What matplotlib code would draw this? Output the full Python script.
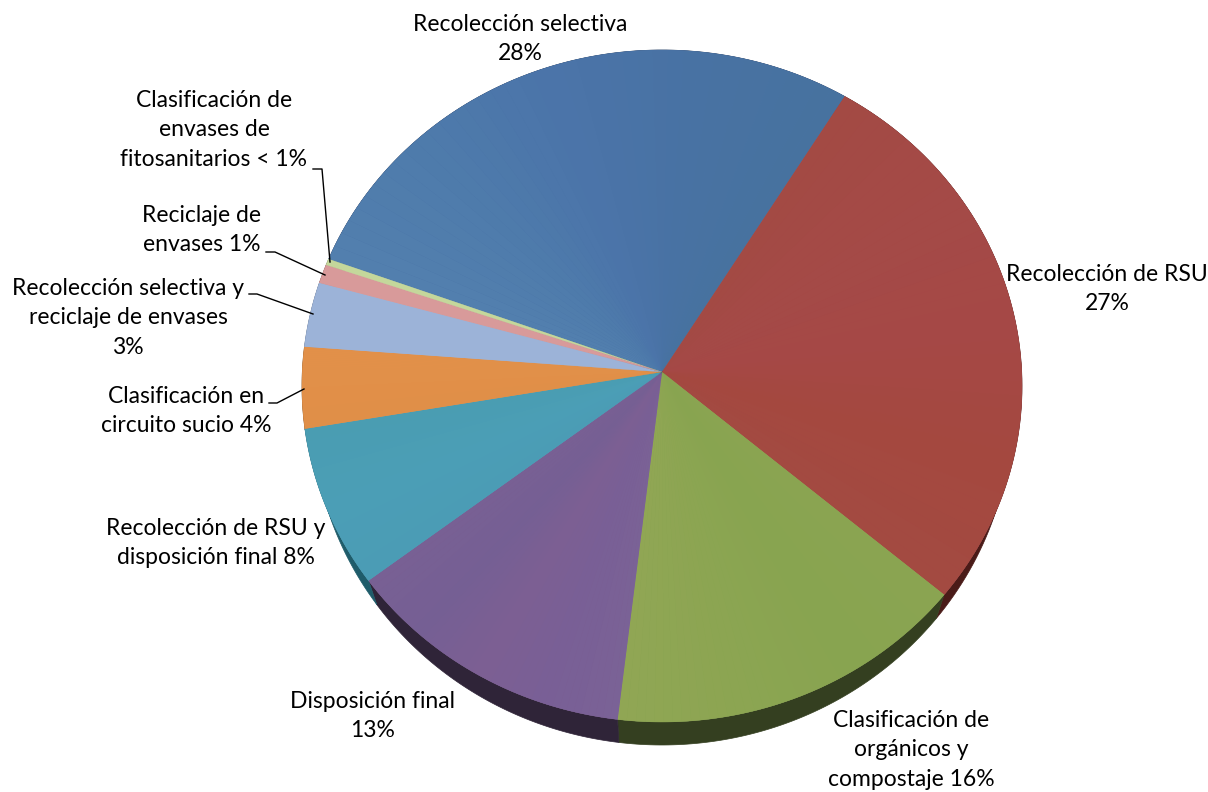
import numpy as np
import matplotlib
matplotlib.use("Agg")
import matplotlib.pyplot as plt
from matplotlib.colors import LinearSegmentedColormap

plt.rcParams["font.family"] = ["Lato", "DejaVu Sans"]

shares = [27.3, 27.2, 16.3, 13.2, 7.8, 3.9, 3.1, 0.9, 0.3]
labels = [
    "Recolección selectiva\n28%",
    "Recolección de RSU\n27%",
    "Clasificación de\norgánicos y\ncompostaje 16%",
    "Disposición final\n13%",
    "Recolección de RSU y\ndisposición final 8%",
    "Clasificación en\ncircuito sucio 4%",
    "Recolección selectiva y\nreciclaje de envases\n3%",
    "Reciclaje de\nenvases 1%",
    "Clasificación de\nenvases de\nfitosanitarios < 1%",
]
shades = [
    ["#527fae", "#4e7bab", "#4b74a9", "#4872a3", "#47729f"],
    ["#a34a44", "#a44a47", "#a54846", "#a4483f", "#a34a41"],
    ["#8aa451", "#88a450", "#8ca552", "#90a654"],
    ["#7a6296", "#795f96", "#7c5f93", "#755f94", "#786094"],
    ["#4b9cb5", "#4b9eb6", "#4a9db2"],
    ["#e08f48", "#e29049"],
    ["#9cb3d8", "#9cb3d8"],
    ["#d89a9a", "#d89a9a"],
    ["#c4d79b", "#c4d79b"],
]
side_colors = ["#25344c", "#4a1b18", "#343f20", "#2f2438", "#1f5c6a",
               "#6b3f14", "#4a5870", "#6b4444", "#5f6b45"]
label_pos = [(520, 39), (1107, 289), (911, 750), (373, 716), (216, 543),
             (186, 411), (128, 318), (202, 230), (214, 130)]
leaders = [
    None, None, None, None, None,
    ([269, 277, 304], [403, 403, 389]),
    ([249, 257, 313], [294, 294, 314]),
    ([266, 275, 325], [252, 252, 275]),
    ([313, 322, 330], [169, 169, 262]),
]

START = 292.2  # clockwise from straight up
APEX = (662, 372)
TOP = (662, 386, 360, 336)
BOTTOM = (662, 411, 350, 334)
N_BANDS = 40


def rim(ellipse, t1, t2, n=40):
    cx, cy, rx, ry = ellipse
    t = np.radians(np.linspace(t1, t2, n))
    return cx + rx * np.sin(t), cy - ry * np.cos(t)


fig = plt.figure(figsize=(12.08, 7.92), dpi=100)
ax = fig.add_axes([0, 0, 1, 1])
ax.set_xlim(0, 1208)
ax.set_ylim(792, 0)
ax.set_axis_off()

edges = START + np.concatenate([[0], np.cumsum(shares)]) * 3.6

# side wall first, the top covers what is not visible
for i, c in enumerate(side_colors):
    tx, ty = rim(TOP, edges[i], edges[i + 1], 80)
    bx, by = rim(BOTTOM, edges[i], edges[i + 1], 80)
    ax.fill(np.r_[tx, bx[::-1]], np.r_[ty, by[::-1]], color=c, lw=0.5, zorder=1)

# soft shift of tone inside each slice, over a flat base so no seams show
for i, tones in enumerate(shades):
    cmap = LinearSegmentedColormap.from_list(f"s{i}", tones)
    x, y = rim(TOP, edges[i], edges[i + 1], 120)
    ax.fill(np.r_[APEX[0], x], np.r_[APEX[1], y], color=cmap(0.5), lw=0.3, zorder=2)
    bands = np.linspace(edges[i], edges[i + 1], N_BANDS + 1)
    for j in range(N_BANDS):
        x, y = rim(TOP, bands[j], bands[j + 1], 6)
        ax.fill(np.r_[APEX[0], x], np.r_[APEX[1], y], facecolor=cmap(j / (N_BANDS - 1)),
                edgecolor="none", zorder=3)

for text, (x, y), leader in zip(labels, label_pos, leaders):
    ax.text(x, y, text, ha="center", va="center", fontsize=16.5, color="black",
            linespacing=1.52, zorder=5)
    if leader:
        ax.plot(leader[0], leader[1], color="black", lw=1, zorder=4)

fig.savefig("out.png", dpi=100)
